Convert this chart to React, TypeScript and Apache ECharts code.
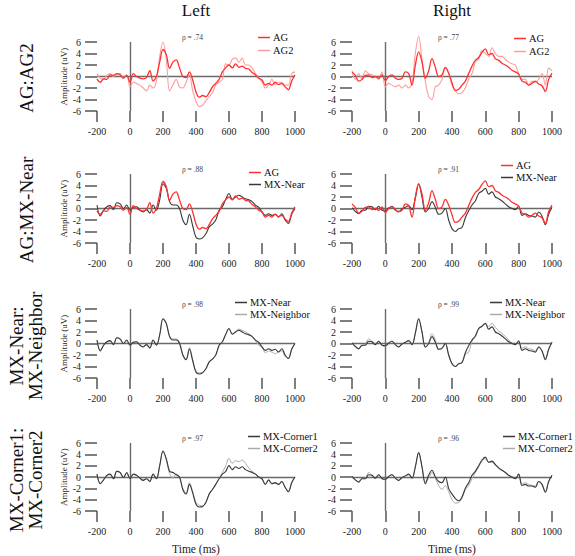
import React, { useEffect, useRef } from "react";
import * as echarts from "echarts";

const TIMES = [-200, -180, -160, -140, -120, -100, -80, -60, -40, -20, 0, 20, 40, 60, 80, 100, 120, 140, 160, 180, 200, 220, 240, 260, 280, 300, 320, 340, 360, 380, 400, 420, 440, 460, 480, 500, 520, 540, 560, 580, 600, 620, 640, 660, 680, 700, 720, 740, 760, 780, 800, 820, 840, 860, 880, 900, 920, 940, 960, 980, 1000];

const AG_L = [-0.4, -1.0, -0.4, -0.5, 0.3, 0.2, 0.5, 0.3, -0.3, 0.2,
  -1.0, 0.5, 0.0, -0.3, -0.4, -0.2, 1.0, -0.8, 0.0, 2.5,
  4.7, 3.8, 1.4, 2.5, 2.9, 1.5, 0.0, -0.2, 0.8, -0.6,
  -2.7, -3.6, -3.3, -3.5, -2.8, -1.8, -1.2, -0.5, 0.8, 1.5,
  2.0, 1.5, 2.2, 1.6, 1.8, 1.4, 1.3, 0.7, 0.3, -0.3,
  -0.6, -1.5, -1.2, -1.5, -1.0, -1.4, -1.2, -1.8, -2.3, -0.8,
  0.3];
const AG2_L = [0.5, -0.3, -0.5, 0.2, 0.5, 0.0, 0.3, 0.5, -0.2, 0.3,
  -1.8, -1.0, -1.2, -1.5, -2.0, -2.5, -1.5, -2.0, -0.8, 3.5,
  6.0, 3.0, -2.5, -1.5, -0.5, -1.8, -2.0, -1.0, 0.3, -2.5,
  -4.3, -5.2, -5.0, -4.2, -3.5, -2.8, -1.5, -1.0, -0.5, 2.2,
  2.0, 3.0, 3.2, 2.5, 3.2, 2.0, 2.0, 1.5, 0.5, -0.2,
  -1.0, -2.0, -1.5, -0.5, -1.5, -1.0, -1.0, -1.5, -1.5, 0.5,
  0.8];
const AG_R = [0.8, 0.2, -0.8, -0.5, 0.2, 0.3, -0.2, 0.0, -0.3, 0.3,
  -0.7, 0.0, 0.3, -0.3, -0.5, -0.3, 0.8, 0.5, -1.5, 2.0,
  4.3, 2.5, -0.3, 1.0, 3.1, 1.6, 0.0, 0.3, 1.6, 0.6,
  -1.1, -2.4, -2.2, -1.5, -0.8, 0.5, 1.8, 2.8, 3.3, 4.2,
  4.8, 3.8, 4.0, 3.1, 2.8, 2.3, 2.0, 1.6, 1.1, 0.8,
  0.4, -0.8, -1.0, -1.5, -1.2, -0.8, -1.3, -1.6, -2.6, -0.5,
  0.6];
const AG2_R = [1.0, -0.5, 0.5, -0.5, 1.0, 0.5, 0.3, 0.0, -0.5, 0.8,
  -1.8, -1.2, -1.5, -1.8, -1.5, -2.0, -1.5, -2.0, -1.2, 4.0,
  7.0, 3.0, -0.8, -3.5, -4.0, -1.8, -1.5, -0.5, 1.5, 0.5,
  -1.5, -2.5, -3.0, -2.8, -2.0, -0.5, 0.5, 2.5, 3.0, 4.5,
  4.0, 3.5, 5.0, 4.0, 3.5, 3.5, 3.0, 2.5, 2.2, 2.0,
  0.5, -0.5, -0.5, -1.5, -0.8, -1.0, -0.5, 0.5, -1.5, 1.5,
  1.0];
const MXN_L = [0.6, -1.3, -0.3, 0.3, 0.5, -0.2, 1.0, 0.8, 0.0, 0.6,
  -0.3, 0.2, 0.3, -0.3, -0.6, -0.2, -0.8, 0.6, -0.3, 1.5,
  4.3, 3.5, 1.2, 0.6, 0.6, 0.0, -2.0, -2.8, -1.0, -3.0,
  -5.0, -5.3, -5.1, -4.4, -3.2, -2.7, -2.0, -0.3, 0.3, 1.6,
  2.6, 1.6, 2.0, 2.3, 2.0, 1.7, 1.5, 1.2, 0.6, 0.2,
  -0.6, -1.2, -0.9, -1.2, -1.0, -1.5, -0.9, -2.0, -2.6, -1.0,
  0.0];
const MXNB_L = [0.6, -1.2, -0.3, 0.3, 0.4, -0.2, 1.0, 0.7, 0.0, 0.5,
  -0.3, 0.2, 0.3, -0.2, -0.6, -0.2, -0.7, 0.6, -0.3, 1.5,
  4.3, 3.4, 1.3, 0.8, 0.8, 0.2, -1.9, -2.7, -0.7, -2.8,
  -4.8, -5.1, -5.0, -4.4, -3.2, -2.6, -2.0, -0.4, 0.3, 1.5,
  2.5, 1.7, 2.1, 2.5, 2.3, 2.0, 1.7, 1.3, 0.5, -0.3,
  -0.6, -1.6, -1.3, -1.5, -1.8, -1.4, -1.3, -2.3, -2.5, -1.0,
  0.0];
const MXN_R = [0.1, -0.5, -0.9, -0.3, -0.3, 0.4, 0.3, -0.2, 0.4, -0.3,
  -0.4, 0.1, 0.4, -0.2, -0.6, -0.1, 0.2, 0.5, -0.2, 1.8,
  4.3, 2.0, -0.6, 0.0, 1.2, 0.2, -1.0, -0.8, 0.0, -2.0,
  -3.5, -4.0, -3.5, -3.3, -1.6, -0.4, 0.6, 1.3, 2.6, 3.0,
  3.5, 2.5, 2.9, 2.0, 1.7, 1.3, 0.8, 0.3, 0.0, -0.2,
  0.4, -1.2, -0.9, -1.2, -1.3, -1.5, -0.6, -1.3, -2.8, -1.0,
  0.2];
const MXNB_R = [0.1, -0.6, -1.0, -0.4, -0.2, 0.8, 0.4, -0.1, 0.4, -0.3,
  -0.5, 0.1, 0.4, -0.2, -0.6, -0.1, 0.2, 0.5, -0.2, 1.8,
  4.3, 2.0, -0.7, 0.2, 1.7, 0.6, -1.0, -0.9, 0.0, -2.0,
  -3.5, -4.0, -3.6, -3.4, -1.9, -1.5, 0.4, 1.2, 2.5, 3.0,
  3.4, 3.0, 3.5, 2.8, 2.2, 1.8, 1.2, 0.6, 0.1, -0.2,
  0.6, -0.8, -0.6, -0.9, -1.0, -1.3, -0.6, -1.3, -2.7, -1.0,
  0.2];
const MXC1_L = [0.5, -1.2, -0.5, 0.3, 0.5, -0.3, 1.0, 0.8, -0.1, 0.8,
  -0.3, 0.5, 0.3, -0.2, -0.6, -0.3, -0.8, 0.5, -0.3, 2.0,
  4.6, 3.2, 1.0, 0.8, 0.4, 0.0, -2.2, -3.0, -1.3, -2.8,
  -4.8, -5.3, -5.2, -4.5, -3.0, -2.2, -1.3, -0.3, 0.5, 1.0,
  2.0, 1.3, 1.8, 1.5, 1.8, 1.3, 1.0, 0.8, 0.5, 0.0,
  -0.3, -1.3, -0.5, -1.2, -1.0, -1.3, -0.8, -1.8, -2.6, -1.0,
  0.0];
const MXC2_L = [0.5, -1.1, -0.5, 0.3, 0.4, -0.3, 1.0, 0.7, -0.1, 0.7,
  -0.3, 0.4, 0.3, -0.2, -0.5, -0.3, -0.7, 0.5, -0.3, 2.0,
  4.6, 3.0, 0.6, -0.2, 0.5, 0.1, -2.0, -2.8, -1.0, -2.6,
  -4.5, -5.0, -5.1, -4.4, -3.0, -2.2, -1.2, -0.3, 0.8, 2.0,
  3.3, 2.4, 2.9, 2.7, 3.0, 2.4, 1.6, 1.0, 0.6, 0.0,
  -0.4, -1.3, -0.6, -1.1, -1.1, -1.3, -0.9, -1.8, -2.5, -1.0,
  0.1];
const MXC1_R = [0.1, -0.5, -0.9, -0.3, -0.3, 0.4, 0.3, -0.2, 0.4, -0.3,
  -0.4, 0.1, 0.4, -0.2, -0.6, -0.1, 0.2, 0.5, -0.2, 1.8,
  4.3, 1.8, -1.2, 0.3, 1.2, 0.0, -0.8, -1.0, 0.0, -2.0,
  -3.0, -3.8, -4.2, -3.5, -2.0, -1.0, 0.3, 1.0, 2.0, 3.0,
  3.5, 2.6, 2.8, 2.2, 1.6, 1.2, 0.8, 0.3, 0.0, -0.3,
  0.5, -1.5, -1.3, -1.6, -1.6, -1.8, -0.8, -1.3, -2.7, -0.8,
  0.3];
const MXC2_R = [0.1, -0.6, -0.8, -0.3, -0.2, 0.8, 0.3, -0.2, 0.4, -0.3,
  -0.4, 0.1, 0.4, -0.2, -0.6, -0.1, 0.2, 0.4, -0.2, 1.8,
  4.3, 1.8, -0.8, -0.3, 0.8, -0.2, -1.5, -2.2, -1.5, -2.6,
  -4.0, -4.6, -4.5, -3.8, -2.2, -1.5, -0.3, 0.8, 1.8, 2.8,
  3.2, 2.6, 2.6, 2.1, 1.5, 1.2, 0.8, 0.3, 0.0, -0.3,
  0.5, -1.2, -1.0, -1.3, -1.5, -1.6, -0.8, -1.3, -2.6, -0.8,
  0.3];

const COLUMN_TITLES = ["Left", "Right"];
const ROW_LABELS = ["AG:AG2", "AG:MX-Near", "MX-Near:\nMX-Neighbor", "MX-Corner1:\nMX-Corner2"];
const RHO = [[".74", ".77"], [".88", ".91"], [".98", ".99"], [".97", ".96"]];
const Y_TICKS = { min: -6, max: 6, step: 2 };
const X_TICKS = { min: -200, max: 1000, step: 200 };

const RED = "#ff3030";
const PINK = "#ff9c9c";
const DARK = "#383838";
const LIGHT = "#ababab";

type S = { name: string; data: number[]; color: string; width: number };

const PANELS: S[][][] = [
  [
    [{ name: "AG", data: AG_L, color: RED, width: 1.3 }, { name: "AG2", data: AG2_L, color: PINK, width: 1.1 }],
    [{ name: "AG", data: AG_R, color: RED, width: 1.3 }, { name: "AG2", data: AG2_R, color: PINK, width: 1.1 }],
  ],
  [
    [{ name: "AG", data: AG_L, color: RED, width: 1.3 }, { name: "MX-Near", data: MXN_L, color: DARK, width: 1.1 }],
    [{ name: "AG", data: AG_R, color: RED, width: 1.3 }, { name: "MX-Near", data: MXN_R, color: DARK, width: 1.1 }],
  ],
  [
    [{ name: "MX-Near", data: MXN_L, color: DARK, width: 1.1 }, { name: "MX-Neighbor", data: MXNB_L, color: LIGHT, width: 1 }],
    [{ name: "MX-Near", data: MXN_R, color: DARK, width: 1.1 }, { name: "MX-Neighbor", data: MXNB_R, color: LIGHT, width: 1 }],
  ],
  [
    [{ name: "MX-Corner1", data: MXC1_L, color: DARK, width: 1.1 }, { name: "MX-Corner2", data: MXC2_L, color: LIGHT, width: 1 }],
    [{ name: "MX-Corner1", data: MXC1_R, color: DARK, width: 1.1 }, { name: "MX-Corner2", data: MXC2_R, color: LIGHT, width: 1 }],
  ],
];

const COL_LEFT = [97, 352];
const COL_W = [198, 200];
const ROW_TOP = [42, 174, 309, 443];
const GRID_H = 69;
const LEGEND_POS = [
  [[258, 37, 50], [514, 38, 51]],
  [[249, 172, 184], [501, 165, 177]],
  [[235, 302, 314], [490, 302, 314]],
  [[248, 436, 448], [503, 436, 448]],
];
const RHO_X = [182, 438];
const ROW_LABEL_CY = [78, 210, 346, 480];

const SERIF = '"Liberation Serif", "DejaVu Serif", serif';

export default function App() {
  const ref = useRef<HTMLDivElement>(null);
  useEffect(() => {
    if (!ref.current) return;
    const chart = echarts.init(ref.current, undefined, { renderer: "svg" });
    const grid: any[] = [];
    const xAxis: any[] = [];
    const yAxis: any[] = [];
    const series: any[] = [];
    const legend: any[] = [];
    const graphic: any[] = [];
    const tickStyle = { color: "#555", width: 1.5 };
    let gi = 0;
    PANELS.forEach((row, r) => {
      row.forEach((panel, c) => {
        grid.push({ left: COL_LEFT[c], top: ROW_TOP[r], width: COL_W[c], height: GRID_H });
        xAxis.push({
          gridIndex: gi, type: "value", min: X_TICKS.min, max: X_TICKS.max, interval: X_TICKS.step,
          axisLine: { show: false, onZero: false }, splitLine: { show: false },
          axisTick: { show: true, length: 11, lineStyle: tickStyle },
          axisLabel: { margin: 15, fontSize: 10, fontFamily: SERIF, color: "#222", formatter: (v: number) => String(v) },
          name: r === 3 ? "Time (ms)" : "", nameLocation: "middle", nameGap: 32,
          nameTextStyle: { fontSize: 11.5, fontFamily: SERIF, color: "#222" },
        });
        yAxis.push({
          gridIndex: gi, type: "value", min: Y_TICKS.min, max: Y_TICKS.max, interval: Y_TICKS.step,
          axisLine: { show: false, onZero: false }, splitLine: { show: false },
          axisTick: { show: true, length: 12, lineStyle: tickStyle },
          axisLabel: { margin: 16, fontSize: 10, fontFamily: SERIF, color: "#222", formatter: (v: number) => String(v) },
          name: c === 0 ? "Amplitude (uV)" : "", nameLocation: "middle", nameRotate: 90, nameGap: 28,
          nameTextStyle: { fontSize: 9, fontFamily: SERIF, color: "#222" },
        });
        panel.forEach((s, k) => {
          series.push({
            type: "line", name: s.name, xAxisIndex: gi, yAxisIndex: gi,
            data: TIMES.map((t, i) => [t, s.data[i]]),
            showSymbol: false, symbol: "none", smooth: 0.35, clip: false,
            color: s.color, lineStyle: { color: s.color, width: s.width },
            z: k === 0 ? 4 : 3,
            markLine: k === 0 ? {
              silent: true, symbol: ["none", "none"], label: { show: false },
              lineStyle: { color: "#6a6a6a", width: 1.4, type: "solid" },
              data: [{ yAxis: 0 }, { xAxis: 0 }],
              z: 1,
            } : undefined,
          });
          const lp = LEGEND_POS[r][c];
          legend.push({
            data: [s.name], left: lp[0], top: lp[1 + k] - 5, icon: "rect",
            itemWidth: 12, itemHeight: 1.5, padding: 0, selectedMode: false,
            textStyle: { fontSize: 10.5, fontFamily: SERIF, color: "#111", lineHeight: 10, padding: [0, 0, 0, -2] },
          });
        });
        graphic.push({
          type: "text", left: RHO_X[c], top: ROW_TOP[r] - 9,
          style: { text: "ρ = " + RHO[r][c], fontSize: 7.5, fontFamily: SERIF, fill: "#444" },
        });
        gi++;
      });
    });
    ROW_LABELS.forEach((t, r) => {
      graphic.push({
        type: "text", x: 26, y: ROW_LABEL_CY[r], rotation: Math.PI / 2,
        style: { text: t, fontSize: 19, fontFamily: SERIF, fill: "#111", align: "center", verticalAlign: "middle", lineHeight: 19 },
      });
    });
    COLUMN_TITLES.forEach((t, c) => {
      graphic.push({
        type: "text", x: COL_LEFT[c] + COL_W[c] / 2, y: 10,
        style: { text: t, fontSize: 17, fontFamily: SERIF, fill: "#111", align: "center", verticalAlign: "middle" },
      });
    });
    chart.setOption({ animation: false, backgroundColor: "#fff", grid, xAxis, yAxis, series, legend, graphic });
    return () => chart.dispose();
  }, []);
  return <div ref={ref} style={{ position: "absolute", left: 0, top: 0, width: 575, height: 556 }} />;
}
